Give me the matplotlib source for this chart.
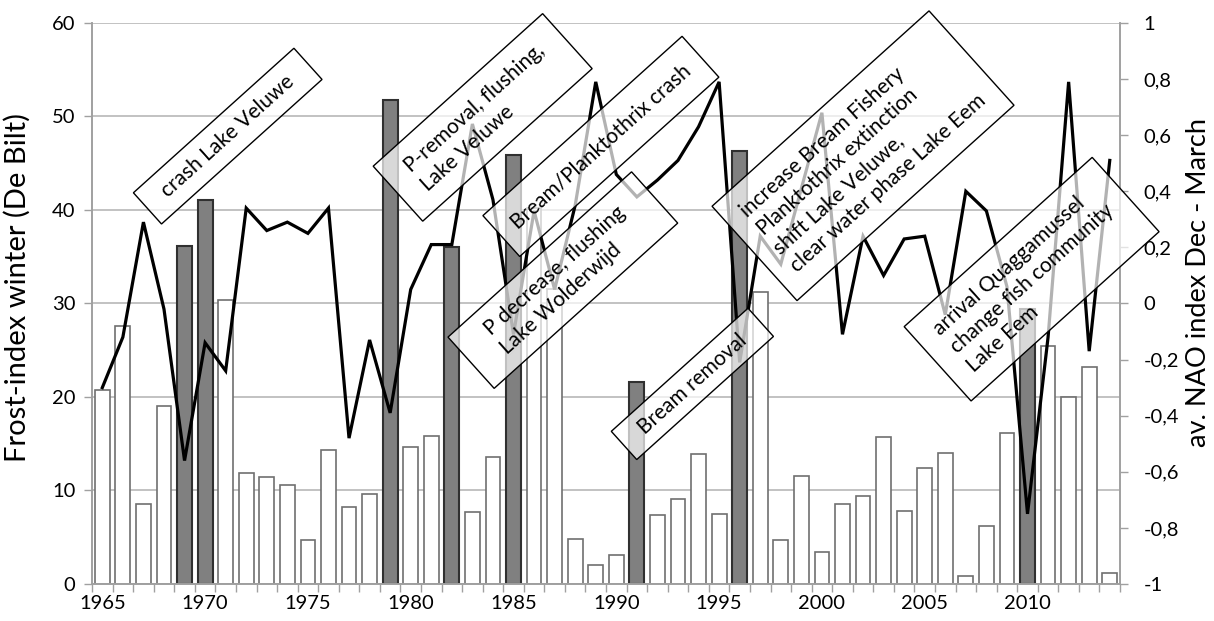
import numpy as np
import matplotlib
matplotlib.use('Agg')
import matplotlib.pyplot as plt
from matplotlib.patches import Rectangle
from matplotlib.transforms import Affine2D, ScaledTranslation
from matplotlib.ticker import FixedLocator, FuncFormatter

plt.rcParams['font.family'] = ['Lato', 'DejaVu Sans']

# ── Data ──────────────────────────────────────────────────────────────────
years = np.arange(1965, 2015)
frost_index = [20.8, 27.6, 8.6, 19.0, 36.1, 41.1, 30.4, 11.9, 11.4, 10.6,
               4.7, 14.3, 8.2, 9.6, 51.8, 14.6, 15.8, 36.0, 7.7, 13.6,
               45.9, 40.2, 31.5, 4.8, 2.0, 3.1, 21.6, 7.4, 9.1, 13.9,
               7.5, 46.3, 31.2, 4.7, 11.5, 3.4, 8.6, 9.4, 15.7, 7.8,
               12.4, 14.0, 0.9, 6.2, 16.2, 29.4, 25.4, 20.0, 23.2, 1.2]
nao_index = [-0.30, -0.12, 0.29, -0.02, -0.56, -0.14, -0.24, 0.34, 0.26, 0.29,
             0.25, 0.34, -0.48, -0.13, -0.39, 0.05, 0.21, 0.21, 0.64, 0.37,
             -0.11, 0.33, 0.05, 0.35, 0.79, 0.46, 0.38, 0.44, 0.51, 0.63,
             0.79, -0.21, 0.24, 0.14, 0.41, 0.68, -0.11, 0.24, 0.10, 0.23,
             0.24, -0.04, 0.40, 0.33, 0.06, -0.75, -0.12, 0.79, -0.17, 0.51]
event_years = [1969, 1970, 1979, 1982, 1985, 1991, 1996, 2010]

# event boxes: label, centre (year, frost-index), box size in px
event_labels = ['crash Lake Veluwe',
                'P-removal, flushing,\nLake Veluwe',
                'Bream/Planktothrix crash',
                'P decrease, flushing\nLake Wolderwijd',
                'Bream removal',
                'increase Bream Fishery\nPlanktothrix extinction\n'
                'shift Lake Veluwe,\nclear water phase Lake Eem',
                'arrival Quaggamussel\nchange fish community\nLake Eem']
event_x = [1971.1, 1983.5, 1989.25, 1987.4, 1993.7, 2002.0, 2010.2]
event_y = [47.9, 49.9, 46.8, 32.5, 21.4, 45.8, 32.6]
box_w = [216, 228, 268, 247, 184, 292, 253]
box_h = [42, 74, 55, 69, 38, 127, 100]

# ── Figure ────────────────────────────────────────────────────────────────
fig = plt.figure(figsize=(12.14, 6.21), dpi=100)
ax = fig.add_axes([0.0758, 0.0596, 0.8468, 0.9034])
ax2 = ax.twinx()

grid_col = '#b8b8b8'
spine_col = '#a0a0a0'

face = ['#808080' if y in event_years else 'white' for y in years]
edge = ['#303030' if y in event_years else '#707070' for y in years]
lw = [1.5 if y in event_years else 1.2 for y in years]
ax.bar(years, frost_index, width=0.72, color=face, edgecolor=edge,
       linewidth=lw, zorder=2)

ax.set_xlim(1964.5, 2014.5)
ax.set_ylim(0, 60)
ax.set_yticks(np.arange(0, 61, 10))
ax.yaxis.grid(True, color=grid_col, linewidth=1.2)
ax.set_axisbelow(True)

ax.xaxis.set_major_locator(FixedLocator(np.arange(1965, 2015, 5)))
ax.xaxis.set_minor_locator(FixedLocator(np.arange(1964.5, 2015, 1)))
ax.tick_params(axis='x', which='major', length=0, pad=8, labelsize=14.5)
ax.tick_params(axis='x', which='minor', length=6, width=1, color=spine_col)
ax.tick_params(axis='y', length=6, width=1, color=spine_col, pad=6,
               labelsize=14.5)

ax.set_ylabel('Frost-index winter (De Bilt)', fontsize=21)
ax.yaxis.set_label_coords(-0.06, 0.528)

for a in (ax, ax2):
    a.spines['top'].set_visible(False)
    for s in ('left', 'right', 'bottom'):
        a.spines[s].set_color(spine_col)
        a.spines[s].set_linewidth(1.2)

# NAO line on the right axis
ax2.plot(years, nao_index, color='black', linewidth=2.3, zorder=3,
         solid_joinstyle='miter')
ax2.set_ylim(-1, 1)
ax2.set_yticks(np.round(np.arange(-1, 1.01, 0.2), 1))


def comma_fmt(v, pos):
    v = round(v, 1)
    if v == 0:
        return '0'
    if v == int(v):
        return f'{int(v)}'
    return f'{v:.1f}'.replace('.', ',')


ax2.yaxis.set_major_formatter(FuncFormatter(comma_fmt))
ax2.tick_params(axis='y', length=6, width=1, color=spine_col, pad=11,
                labelsize=14.5)
ax2.set_ylabel('av. NAO index Dec - March', fontsize=19.5, rotation=90)
ax2.yaxis.set_label_coords(1.064, 0.538)

# event boxes, semi-transparent so the line shows through grey
angle = 42
for label, ex, ey, w, h in zip(event_labels, event_x, event_y, box_w, box_h):
    tr = Affine2D().rotate_deg(angle) + ScaledTranslation(ex, ey, ax.transData)
    ax2.add_patch(Rectangle((-w / 2, -h / 2), w, h, transform=tr,
                            facecolor=(1, 1, 1, 0.7), edgecolor='black',
                            linewidth=1, zorder=5, clip_on=False))
    ax2.text(ex, ey, label, transform=ax.transData, rotation=angle,
             rotation_mode='anchor', ha='center', va='center', ma='left',
             fontsize=15, linespacing=1.3, zorder=6, clip_on=False)

fig.savefig('out.png', dpi=100)
